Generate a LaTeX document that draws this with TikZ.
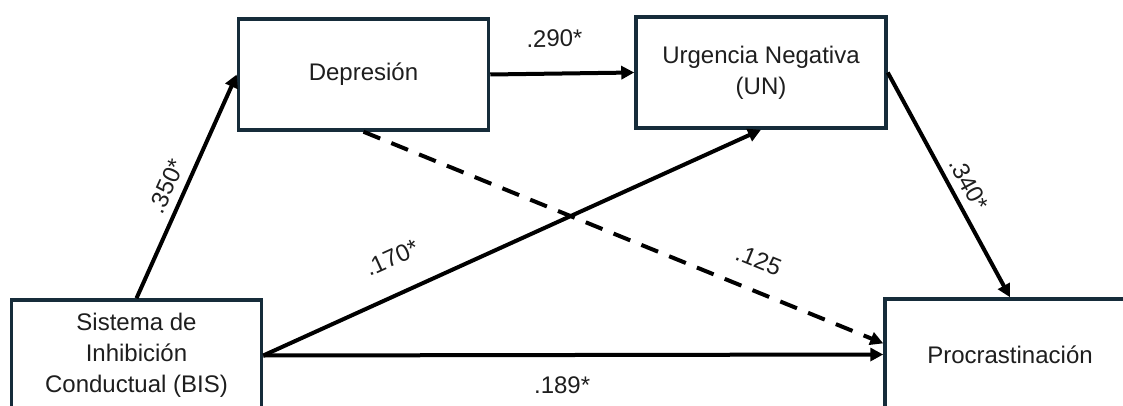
\documentclass[tikz,border=0pt]{standalone}
\usepackage{fontspec}
\setmainfont{Liberation Sans}
\usetikzlibrary{arrows.meta,calc}
\definecolor{boxline}{RGB}{22,44,58}
\definecolor{txt}{RGB}{30,30,30}
\begin{document}
\begin{tikzpicture}[x=1pt,y=-1pt,
  box/.style={draw=boxline, line width=3.5pt, fill=white, minimum width=250pt, minimum height=111pt, inner sep=0pt, align=center, text=txt, font=\fontsize{24}{31}\selectfont},
  conn/.style={draw=black, line width=4pt, -{Triangle[length=13pt,width=13pt]}},
  dashconn/.style={conn, dash pattern=on 18pt off 12pt},
  lbl/.style={sloped, font=\fontsize{24}{28}\selectfont, text=txt, inner sep=0pt}
]
\useasboundingbox (0,0) rectangle (1123,406);
\clip (0,0) rectangle (1123,406);
\node[box] (dep) at (363.5,74.5) {Depresión};
\node[box] (un) at (761,72.5) {Urgencia Negativa\\(UN)};
\node[box] (bis) at (136.5,355.5) {Sistema de\\Inhibición\\Conductual (BIS)};
\node[box] (pro) at (1010,354.5) {Procrastinación};

\draw[conn] (bis.north) -- node[lbl, pos=0.467, yshift=18.6pt] {.350*} (dep.west);
\draw[conn] (dep.east) -- node[lbl, pos=0.449, yshift=35pt] {.290*} (un.west);
\draw[conn] (bis.east) -- node[lbl, pos=0.288, yshift=36pt] {.170*} (un.south);
\draw[dashconn] (dep.south) -- node[lbl, pos=0.7385, yshift=30pt] {.125} (pro.175);
\draw[conn] (un.east) -- node[lbl, pos=0.535, yshift=18pt] {.340*} (pro.north);
\draw[conn] (bis.east) -- node[lbl, pos=0.482, yshift=-30pt] {.189*} (pro.west);
\end{tikzpicture}
\end{document}
